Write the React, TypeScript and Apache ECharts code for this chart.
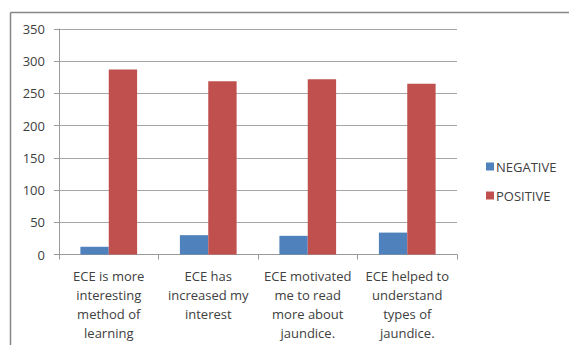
import React, { useEffect, useRef } from "react";
import * as echarts from "echarts";

const categories = [
  "ECE is more\ninteresting\nmethod of\nlearning",
  "ECE has\nincreased my\ninterest",
  "ECE motivated\nme to read\nmore about\njaundice.",
  "ECE helped to\nunderstand\ntypes of\njaundice.",
];
const negative = [12, 30, 29, 34];
const positive = [287, 269, 272, 265];
const yTicks = { min: 0, max: 350, interval: 50 };

export default function App() {
  const ref = useRef<HTMLDivElement>(null);
  useEffect(() => {
    document.body.style.margin = "0";
    const chart = echarts.init(ref.current!, null, { renderer: "svg" });
    const font = "'Open Sans', 'Liberation Sans', sans-serif";
    chart.setOption({
      animation: false,
      textStyle: { fontFamily: font },
      grid: { left: 59, top: 29, right: 112, bottom: 90.5, containLabel: false },
      legend: {
        orient: "vertical",
        left: 481,
        top: 155,
        itemWidth: 8,
        itemHeight: 8,
        itemGap: 16,
        icon: "rect",
        textStyle: { fontSize: 13, color: "#404040", fontFamily: font, padding: [0, 0, 0, -3] },
        data: ["NEGATIVE", "POSITIVE"],
      },
      xAxis: {
        type: "category",
        data: categories,
        axisLine: { lineStyle: { color: "#9a9a9a" } },
        axisTick: { show: true, length: 5, lineStyle: { color: "#9a9a9a" } },
        axisLabel: {
          interval: 0,
          fontSize: 13,
          color: "#404040",
          lineHeight: 19,
          margin: 12,
          fontFamily: font,
        },
      },
      yAxis: {
        type: "value",
        min: yTicks.min,
        max: yTicks.max,
        interval: yTicks.interval,
        axisLine: { show: true, lineStyle: { color: "#9a9a9a" } },
        axisTick: { show: true, length: 5, lineStyle: { color: "#9a9a9a" } },
        splitLine: { lineStyle: { color: "#a6a6a6", width: 1 } },
        axisLabel: { fontSize: 13, color: "#404040", margin: 14, fontFamily: font },
      },
      series: [
        {
          name: "NEGATIVE",
          type: "bar",
          data: negative,
          barGap: "0%",
          barCategoryGap: "43%",
          itemStyle: { color: "#4F81BD" },
        },
        {
          name: "POSITIVE",
          type: "bar",
          data: positive,
          barGap: "0%",
          barCategoryGap: "43%",
          itemStyle: { color: "#C0504D" },
        },
      ],
      graphic: [
        {
          type: "line",
          shape: { x1: 10.5, y1: 12.5, x2: 569, y2: 12.5 },
          style: { stroke: "#878787", lineWidth: 1.5 },
        },
        {
          type: "line",
          shape: { x1: 10.5, y1: 12.5, x2: 10.5, y2: 345 },
          style: { stroke: "#878787", lineWidth: 1.5 },
        },
      ],
    });
    return () => chart.dispose();
  }, []);
  return <div ref={ref} style={{ width: 569, height: 345 }} />;
}
